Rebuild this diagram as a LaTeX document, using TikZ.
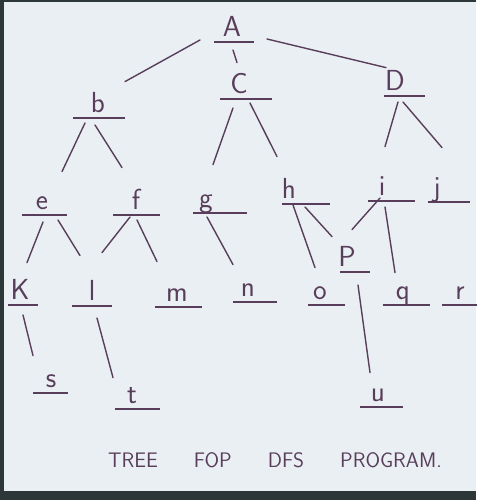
\documentclass[tikz,border=0pt]{standalone}
\usepackage{xcolor}
\usepackage{tikz}
\usetikzlibrary{positioning}

\definecolor{ink}{RGB}{88,62,90}
\definecolor{paper}{RGB}{234,239,244}
\definecolor{frame}{RGB}{45,55,55}

\begin{document}
\begin{tikzpicture}[
    x=1pt, y=-1pt,
    lbl/.style 2 args={
        font=\sffamily\fontsize{29}{31}\selectfont,
        text=ink,
        text height=14pt,
        text depth=0pt,
        inner xsep=0pt,
        inner ysep=5pt,
        anchor=south,
        append after command={
            ([xshift=-#1pt]\tikzlastnode.south) edge[uline] ([xshift=#2pt]\tikzlastnode.south)
        }
    },
    uline/.style={draw=ink, line width=1.4pt},
    branch/.style={draw=ink, line width=1.4pt, line cap=round},
    caption/.style={font=\sffamily\fontsize{21}{23}\selectfont, text=ink}
]

% paper and scanner edge
\fill[frame] (0,0) rectangle (476,500);
\fill[paper] (4,2) rectangle (476,491);
\useasboundingbox (0,0) rectangle (476,500);

% Nodes
\node[lbl={18}{22}] (A) at (232,42) {A};
\node[lbl={25}{27}] (b) at (98,118) {b};
\node[lbl={19}{33}] (C) at (239,99) {C};
\node[lbl={11}{30}] (D) at (395,96) {D};
\node[lbl={20}{25}] (e) at (42,215) {e};
\node[lbl={23}{24}] (f) at (136,215) {f};
\node[lbl={13}{41}] (g) at (206,213) {g};
\node[lbl={7}{41}] (h) at (289,204) {h};
\node[lbl={14}{33}] (i) at (382,201) {i};
\node[lbl={9}{33}] (j) at (437,202) {j};
\node[lbl={7}{23}] (p) at (347,272) {P};
\node[lbl={12}{18}] (k) at (20,305) {K};
\node[lbl={20}{20}] (l) at (92,306) {l};
\node[lbl={22}{25}] (m) at (177,307) {m};
\node[lbl={15}{29}] (n) at (248,302) {n};
\node[lbl={12}{25}] (o) at (320,305) {o};
\node[lbl={20}{27}] (q) at (403,305) {q};
\node[lbl={18}{20}] (r) at (460,305) {r};
\node[lbl={18}{17}] (s) at (51,393) {s};
\node[lbl={17}{28}] (t) at (132,409) {t};
\node[lbl={18}{25}] (u) at (378,407) {u};

% Branches
\draw[branch] ([xshift=-32pt,yshift=2pt]A.south) -- ([xshift=27pt,yshift=12pt]b.north);
\draw[branch] ([xshift=1pt,yshift=-8pt]A.south) -- ([xshift=-2pt,yshift=12pt]C.north);
\draw[branch] ([xshift=35pt,yshift=3pt]A.south) -- ([xshift=-9pt,yshift=4pt]D.north);
\draw[branch] ([xshift=-13pt,yshift=-5pt]b.south) -- ([xshift=20pt,yshift=19pt]e.north);
\draw[branch] ([xshift=-3pt,yshift=-7pt]b.south) -- ([xshift=-14pt,yshift=23pt]f.north);
\draw[branch] ([xshift=-6pt,yshift=-9pt]C.south) -- ([xshift=7pt,yshift=24pt]g.north);
\draw[branch] ([xshift=11pt,yshift=-4pt]C.south) -- ([xshift=-12pt,yshift=23pt]h.north);
\draw[branch] ([xshift=3pt,yshift=-6pt]D.south) -- ([xshift=3pt,yshift=30pt]i.north);
\draw[branch] ([xshift=8pt,yshift=-6pt]D.south) -- ([xshift=5pt,yshift=30pt]j.north);
\draw[branch] ([xshift=1pt,yshift=-7pt]e.south) -- ([xshift=7pt,yshift=18pt]k.north);
\draw[branch] ([xshift=16pt,yshift=-5pt]e.south) -- ([xshift=-12pt,yshift=26pt]l.north);
\draw[branch] ([xshift=-6pt,yshift=-2pt]f.south) -- ([xshift=10pt,yshift=29pt]l.north);
\draw[branch] ([xshift=1pt,yshift=-5pt]f.south) -- ([xshift=-20pt,yshift=21pt]m.north);
\draw[branch] ([xshift=1pt,yshift=-4pt]g.south) -- ([xshift=-15pt,yshift=13pt]n.north);
\draw[branch] ([xshift=4pt,yshift=-1pt]h.south) -- ([xshift=-5pt,yshift=13pt]o.north);
\draw[branch] ([xshift=16pt,yshift=-3pt]h.south) -- ([xshift=-15pt,yshift=11pt]p.north);
\draw[branch] ([xshift=-2pt,yshift=3pt]i.south) -- ([xshift=5pt,yshift=18pt]p.north);
\draw[branch] ([xshift=3pt,yshift=-6pt]i.south) -- ([xshift=-8pt,yshift=8pt]q.north);
\draw[branch] ([xshift=11pt,yshift=-13pt]p.south) -- ([xshift=-8pt,yshift=10pt]u.north);
\draw[branch] ([xshift=3pt,yshift=-10pt]k.south) -- ([xshift=-18pt,yshift=13pt]s.north);
\draw[branch] ([xshift=5pt,yshift=-12pt]l.south) -- ([xshift=-19pt,yshift=7pt]t.north);

% Caption
\node[caption] (title) at (275,460) {\spaceskip=36pt TREE FOP DFS PROGRAM.};
\end{tikzpicture}
\end{document}
